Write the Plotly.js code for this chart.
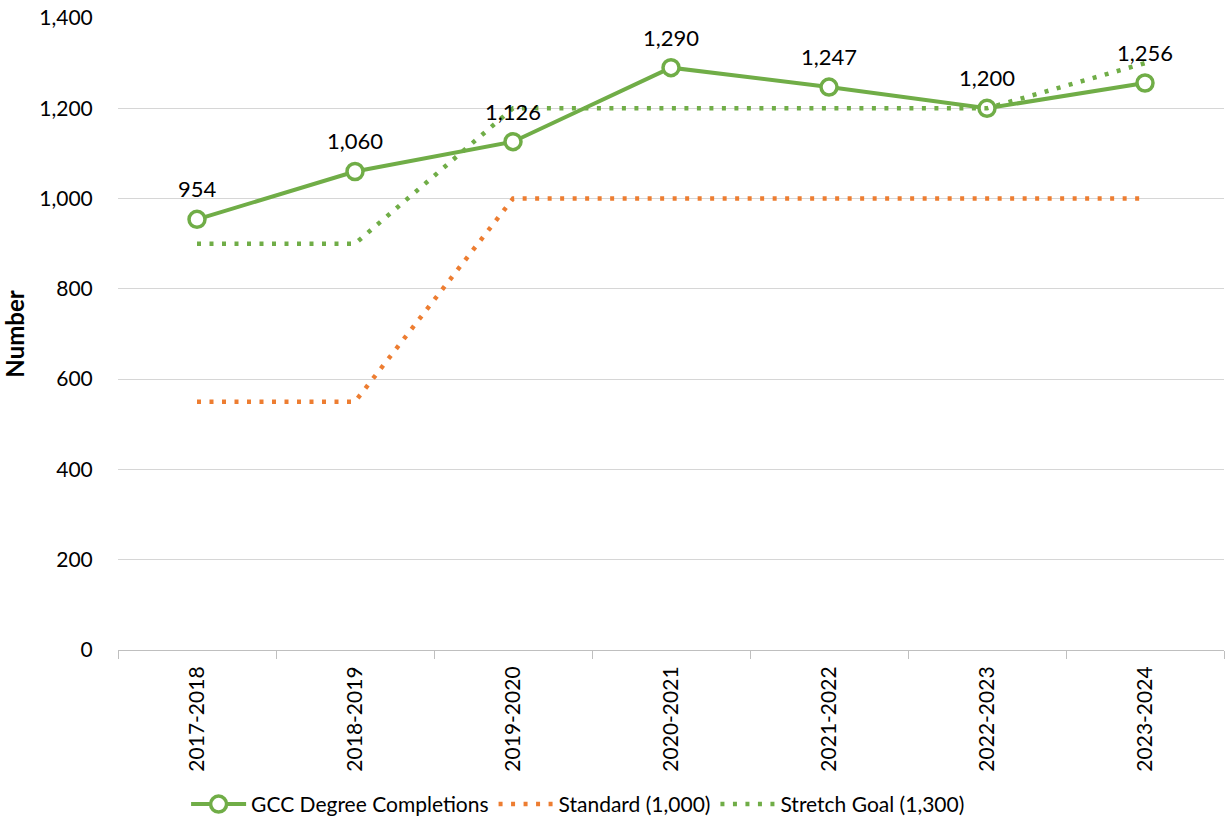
<!DOCTYPE html>
<html>
<head>
<meta charset="utf-8">
<script src="https://cdn.plot.ly/plotly-3.0.1.min.js"></script>
<style>html,body{margin:0;padding:0;background:#fff;}#chart{width:1225px;height:825px;}</style>
</head>
<body>
<div id="chart"></div>
<script>
const categories = ["2017-2018","2018-2019","2019-2020","2020-2021","2021-2022","2022-2023","2023-2024"];
const completions = [954, 1060, 1126, 1290, 1247, 1200, 1256];
const standard = [550, 550, 1000, 1000, 1000, 1000, 1000];
const stretch = [900, 900, 1200, 1200, 1200, 1200, 1300];
const labels = completions.map(v => v.toLocaleString('en-US'));

const font = "Lato, 'Open Sans', sans-serif";
const green = "#70AD47";
const orange = "#ED7D31";
const dotted = "4px,8.5px";

const traces = [
  {
    x: categories, y: completions, name: "GCC Degree Completions",
    type: "scatter", mode: "lines+markers",
    line: {color: green, width: 4},
    marker: {symbol: "circle", size: 16, color: "#fff", line: {color: green, width: 3.5}},
    cliponaxis: false
  },
  {
    x: categories, y: standard, name: "Standard (1,000)",
    type: "scatter", mode: "lines",
    line: {color: orange, width: 4.5, dash: dotted}
  },
  {
    x: categories, y: stretch, name: "Stretch Goal (1,300)",
    type: "scatter", mode: "lines",
    line: {color: green, width: 4.5, dash: dotted}
  }
];

const annotations = categories.map((c, i) => ({
  x: c, y: completions[i], xref: "x", yref: "y",
  text: labels[i], showarrow: false,
  xanchor: "center", yanchor: "bottom", yshift: 15,
  font: {family: font, size: 22, color: "#000"}
}));

const layout = {
  width: 1225, height: 825,
  margin: {l: 118, r: 1, t: 18, b: 174},
  paper_bgcolor: "#fff", plot_bgcolor: "#fff",
  font: {family: font, size: 21, color: "#000"},
  showlegend: true,
  legend: {
    orientation: "h", x: 0.416, xanchor: "center", y: -0.21, yanchor: "top",
    font: {family: font, size: 21, color: "#000"},
    traceorder: "normal", itemwidth: 55
  },
  annotations: annotations,
  xaxis: {
    type: "category",
    range: [-0.5, 6.5],
    tickangle: -90,
    tickfont: {family: font, size: 21, color: "#000"},
    showgrid: false,
    showline: true, linecolor: "#bfbfbf", linewidth: 1,
    ticks: "outside", tickson: "boundaries", ticklen: 8, tickcolor: "#bfbfbf",
    ticklabelstandoff: 7,
    zeroline: false, fixedrange: true, automargin: false
  },
  yaxis: {
    range: [0, 1400], dtick: 200, tickformat: ",d",
    tickfont: {family: font, size: 21, color: "#000"},
    showgrid: true, gridcolor: "#d6d6d6", gridwidth: 1,
    zeroline: false, showline: false,
    ticks: "outside", ticklen: 20, tickcolor: "rgba(0,0,0,0)",
    title: {text: "<b>Number</b>", font: {family: font, size: 24, color: "#000"}, standoff: 10},
    fixedrange: true, automargin: false
  }
};

Plotly.newPlot("chart", traces, layout, {displayModeBar: false, staticPlot: true});
</script>
</body>
</html>
